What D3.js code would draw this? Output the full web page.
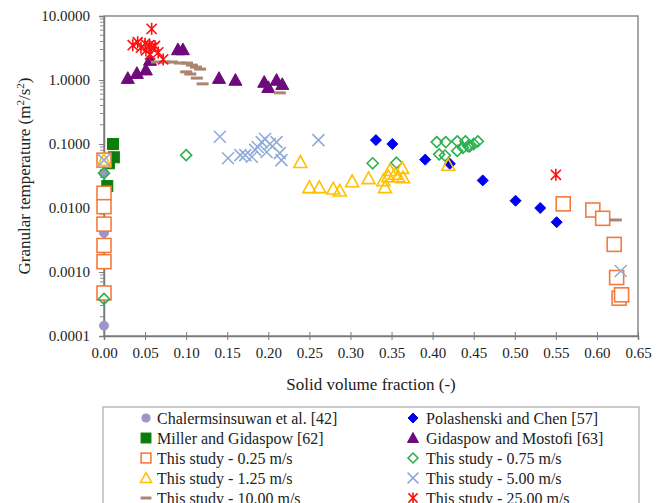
<!DOCTYPE html>
<html>
<head>
<meta charset="utf-8">
<script src="https://cdn.jsdelivr.net/npm/d3@7"></script>
<style>
  html, body { margin: 0; padding: 0; background: #fff; }
</style>
</head>
<body>
<svg id="chart" width="666" height="503"></svg>
<script>
// Granular temperature versus solid volume fraction, literature and simulation data
const chalermsinsuwan = [[0.000, 0.035], [0.000, 0.0041], [0.000, 0.000145]];
const millerGidaspow = [[0.011, 0.100], [0.012, 0.062], [0.006, 0.050], [0.004, 0.022]];
const polashenskiChen = [[0.331, 0.115], [0.351, 0.100], [0.391, 0.057], [0.421, 0.049],
  [0.461, 0.027], [0.501, 0.0130], [0.531, 0.0100], [0.551, 0.0060]];
const gidaspowMostofi = [[0.029, 1.07], [0.040, 1.28], [0.051, 1.45], [0.056, 2.05],
  [0.090, 3.0], [0.096, 3.0], [0.140, 1.07], [0.160, 1.00], [0.195, 0.93],
  [0.200, 0.77], [0.210, 1.00], [0.217, 0.86]];
const study025 = [[0.000, 0.056], [0.000, 0.017], [0.000, 0.0105], [0.000, 0.0056],
  [0.000, 0.0026], [0.000, 0.00145], [0.000, 0.00047],
  [0.559, 0.0116], [0.595, 0.0093], [0.607, 0.0069], [0.621, 0.0027],
  [0.624, 0.00082], [0.627, 0.00039], [0.630, 0.00044]];
const study075 = [[0.000, 0.035], [0.000, 0.00038], [0.100, 0.067], [0.327, 0.050],
  [0.356, 0.051], [0.405, 0.107], [0.416, 0.107], [0.430, 0.110], [0.440, 0.110],
  [0.443, 0.093], [0.450, 0.100], [0.455, 0.110], [0.408, 0.069], [0.415, 0.066],
  [0.430, 0.078], [0.437, 0.087], [0.445, 0.092]];
const study125 = [[0.000, 0.056], [0.239, 0.052], [0.250, 0.021], [0.262, 0.021],
  [0.279, 0.020], [0.287, 0.0186], [0.302, 0.026], [0.322, 0.029], [0.340, 0.027],
  [0.342, 0.021], [0.346, 0.031], [0.348, 0.039], [0.354, 0.034], [0.358, 0.031],
  [0.363, 0.042], [0.364, 0.030], [0.419, 0.047]];
const study500 = [[0.000, 0.056], [0.141, 0.130], [0.151, 0.060], [0.166, 0.067],
  [0.172, 0.067], [0.180, 0.063], [0.184, 0.081], [0.187, 0.090], [0.192, 0.107],
  [0.196, 0.120], [0.198, 0.075], [0.202, 0.100], [0.210, 0.107], [0.214, 0.072],
  [0.216, 0.056], [0.261, 0.115], [0.629, 0.00104]];
const study1000 = [[0.0645, 1.91], [0.074, 1.91], [0.083, 1.91], [0.0925, 1.84],
  [0.101, 1.84], [0.107, 1.71], [0.112, 1.59], [0.117, 1.48], [0.100, 1.34],
  [0.105, 1.24], [0.113, 1.07], [0.120, 0.87], [0.214, 0.63], [0.623, 0.0065]];
const study2500 = [[0.058, 6.3], [0.035, 3.5], [0.041, 3.9], [0.045, 3.2], [0.050, 3.7],
  [0.051, 2.9], [0.055, 3.5], [0.058, 3.2], [0.062, 3.4], [0.066, 2.7], [0.056, 2.5],
  [0.072, 2.1], [0.550, 0.033]];

const xTicks = d3.range(0, 14).map(i => +(i * 0.05).toFixed(2));
const yTicks = [0.0001, 0.001, 0.01, 0.1, 1, 10];

const series = [
  { name: "Chalermsinsuwan et al. [42]", data: chalermsinsuwan, shape: "circle", color: "#a093c8", fill: true, size: 9 },
  { name: "Miller and Gidaspow [62]", data: millerGidaspow, shape: "square", color: "#0a7d0a", fill: true, size: 11 },
  { name: "Polashenski and Chen [57]", data: polashenskiChen, shape: "diamond", color: "#0000f0", fill: true, size: 11 },
  { name: "Gidaspow and Mostofi [63]", data: gidaspowMostofi, shape: "triangle", color: "#6e0a7c", fill: true, size: 13 },
  { name: "This study - 0.25 m/s", data: study025, shape: "square", color: "#f47a3c", fill: false, size: 14 },
  { name: "This study - 0.75 m/s", data: study075, shape: "diamond", color: "#2eb050", fill: false, size: 11 },
  { name: "This study - 1.25 m/s", data: study125, shape: "triangle", color: "#ffc000", fill: false, size: 13 },
  { name: "This study - 5.00 m/s", data: study500, shape: "x", color: "#8eaad8", fill: false, size: 12 },
  { name: "This study - 10.00 m/s", data: study1000, shape: "dash", color: "#ac8570", fill: false, size: 12 },
  { name: "This study - 25.00 m/s", data: study2500, shape: "star", color: "#ff1010", fill: false, size: 12 }
];

const FONT = "Liberation Serif";
const svg = d3.select("#chart").attr("font-family", FONT);
const m = { left: 104, right: 638, top: 16, bottom: 336 };

const x = d3.scaleLinear().domain([0, 0.65]).range([m.left, m.right]);
const y = d3.scaleLog().domain([0.0001, 10]).range([m.bottom, m.top]);

// Plot frame
svg.append("rect")
  .attr("x", m.left).attr("y", m.top)
  .attr("width", m.right - m.left).attr("height", m.bottom - m.top)
  .attr("fill", "none").attr("stroke", "#8a8a8a").attr("stroke-width", 1.5);

// Y axis: decade labels with log minor ticks
const yAxis = d3.axisLeft(y)
  .tickValues(yTicks)
  .tickFormat(d3.format(".4f"))
  .tickSize(5).tickPadding(9);
const gy = svg.append("g").attr("transform", `translate(${m.left},0)`).call(yAxis)
  .attr("font-family", FONT);
gy.select(".domain").attr("stroke", "#7a7a7a").attr("stroke-width", 1.5);
gy.selectAll(".tick line").attr("stroke", "#7a7a7a");
gy.selectAll(".tick text").attr("font-size", 15).attr("fill", "#222").attr("font-family", FONT);

const minor = [];
yTicks.slice(0, -1).forEach(d => { for (let k = 2; k <= 9; k++) minor.push(d * k); });
svg.append("g").selectAll("line").data(minor).join("line")
  .attr("x1", m.left - 4).attr("x2", m.left)
  .attr("y1", d => y(d)).attr("y2", d => y(d))
  .attr("stroke", "#8a8a8a").attr("stroke-width", 1);

// X axis
const xAxis = d3.axisBottom(x)
  .tickValues(xTicks)
  .tickFormat(d3.format(".2f"))
  .tickSize(4).tickPadding(7);
const gx = svg.append("g").attr("transform", `translate(0,${m.bottom})`).call(xAxis)
  .attr("font-family", FONT);
gx.select(".domain").attr("stroke", "#7a7a7a").attr("stroke-width", 1.5);
gx.selectAll(".tick line").attr("stroke", "#7a7a7a").attr("y1", -4);
gx.selectAll(".tick text").attr("font-size", 15).attr("fill", "#222").attr("font-family", FONT);

// Axis titles
svg.append("text")
  .attr("x", (m.left + m.right) / 2).attr("y", 390)
  .attr("text-anchor", "middle").attr("font-size", 17).attr("fill", "#222")
  .attr("font-family", FONT)
  .text("Solid volume fraction (-)");

const yt = svg.append("text")
  .attr("transform", `translate(30,${(m.top + m.bottom) / 2}) rotate(-90)`)
  .attr("text-anchor", "middle").attr("font-size", 17).attr("fill", "#222")
  .attr("font-family", FONT);
yt.append("tspan").text("Granular temperature (m");
yt.append("tspan").attr("font-size", 11).attr("dy", -6).text("2");
yt.append("tspan").attr("dy", 6).text("/s");
yt.append("tspan").attr("font-size", 11).attr("dy", -6).text("2");
yt.append("tspan").attr("dy", 6).text(")");

// Marker drawing
function drawMarker(g, s, scale) {
  const r = s.size * (scale || 1) / 2;
  let el;
  switch (s.shape) {
    case "circle":
      el = g.append("circle").attr("r", r);
      break;
    case "square":
      el = g.append("rect").attr("x", -r).attr("y", -r).attr("width", 2 * r).attr("height", 2 * r);
      break;
    case "diamond":
      el = g.append("path").attr("d", `M0,${-r}L${r},0L0,${r}L${-r},0Z`);
      break;
    case "triangle": {
      const h = r * 1.8;
      el = g.append("path").attr("d", `M0,${-h * 0.55}L${r},${h * 0.45}L${-r},${h * 0.45}Z`);
      break;
    }
    case "x":
      el = g.append("path").attr("d", `M${-r},${-r}L${r},${r}M${-r},${r}L${r},${-r}`);
      break;
    case "star": {
      const a = r * 0.85;
      el = g.append("path").attr("d", `M${-a},${-a}L${a},${a}M${-a},${a}L${a},${-a}M0,${-r}L0,${r}`);
      break;
    }
    case "dash":
      el = g.append("path").attr("d", `M${-r},0L${r},0`);
      break;
  }
  if (s.shape === "x" || s.shape === "star" || s.shape === "dash") {
    el.attr("fill", "none").attr("stroke", s.color)
      .attr("stroke-width", s.shape === "dash" ? 3 : (s.shape === "star" ? 1.6 : 1.5));
  } else if (!s.fill) {
    el.attr("fill", s.shape === "square" ? "#fff" : "none")
      .attr("stroke", s.color).attr("stroke-width", 1.6);
  } else {
    el.attr("fill", s.color).attr("stroke", s.color).attr("stroke-width", 1);
  }
}

const plot = svg.append("g");
series.forEach(s => {
  plot.append("g").selectAll("g").data(s.data).join("g")
    .attr("transform", d => `translate(${x(d[0])},${y(d[1])})`)
    .each(function () { drawMarker(d3.select(this), s); });
});

// Legend
const legendBox = { x: 103, y: 407, w: 536, h: 110 };
svg.append("rect")
  .attr("x", legendBox.x).attr("y", legendBox.y)
  .attr("width", legendBox.w).attr("height", legendBox.h)
  .attr("fill", "#fff").attr("stroke", "#9a9a9a").attr("stroke-width", 1);

const leftCol = [0, 1, 4, 6, 8];
const rightCol = [2, 3, 5, 7, 9];
const rowY = i => 418 + i * 20;
function legendColumn(idx, mx, tx) {
  idx.forEach((si, i) => {
    const s = series[si];
    const g = svg.append("g").attr("transform", `translate(${mx},${rowY(i)})`);
    drawMarker(g, s, s.shape === "square" && !s.fill ? 0.7 : (s.shape === "triangle" ? 0.85 : 0.9));
    svg.append("text").attr("x", tx).attr("y", rowY(i)).attr("dy", "0.35em")
      .attr("font-size", 16).attr("fill", "#222").attr("font-family", FONT).text(s.name);
  });
}
legendColumn(leftCol, 146, 157);
legendColumn(rightCol, 413, 426);
</script>
</body>
</html>
